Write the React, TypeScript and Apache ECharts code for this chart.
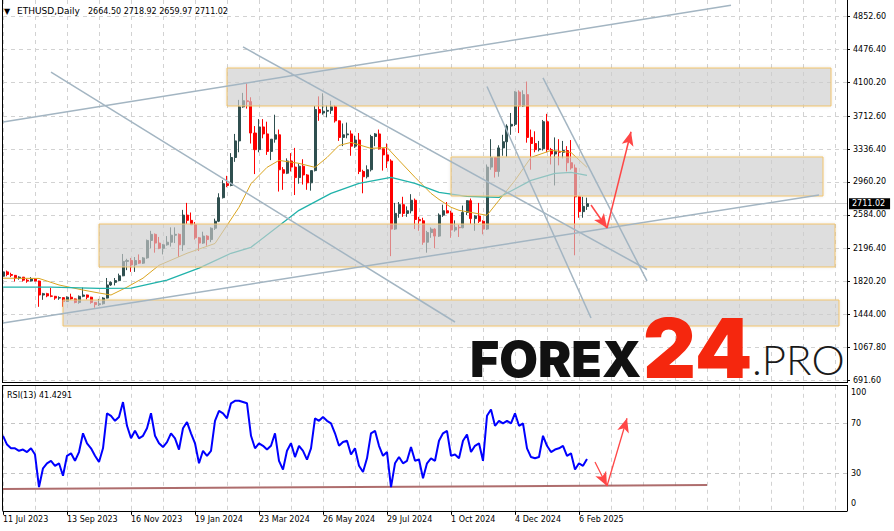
import { useEffect, useRef } from 'react';
import * as echarts from 'echarts';

// ---------- DATA ----------
const START_UTC = Date.UTC(2023, 6, 11);
const BAR_DAYS = 4;
const CATEGORY_COUNT = 212;
const MONTHS = ['Jan', 'Feb', 'Mar', 'Apr', 'May', 'Jun', 'Jul', 'Aug', 'Sep', 'Oct', 'Nov', 'Dec'];
const categories: string[] = Array.from({ length: CATEGORY_COUNT }, (_, i) => {
  const d = new Date(START_UTC + i * BAR_DAYS * 86400000);
  return `${d.getUTCDate()} ${MONTHS[d.getUTCMonth()]} ${d.getUTCFullYear()}`;
});
const LAST_DATA_INDEX = 146;

// [open, high, low, close] per 4-day bar
const candles: number[][] = [
  [1880, 1990, 1860, 1930], [1930, 1945, 1880, 1900], [1900, 1920, 1870, 1890], [1890, 1895, 1820, 1860],
  [1860, 1880, 1840, 1870], [1870, 1872, 1820, 1835], [1835, 1850, 1805, 1825], [1825, 1870, 1820, 1848],
  [1848, 1860, 1820, 1825], [1825, 1830, 1530, 1665], [1665, 1690, 1610, 1680], [1680, 1690, 1640, 1655],
  [1655, 1745, 1640, 1650], [1650, 1655, 1610, 1630], [1630, 1650, 1610, 1635], [1635, 1640, 1530, 1590],
  [1590, 1650, 1585, 1640], [1640, 1680, 1610, 1620], [1620, 1625, 1570, 1580], [1580, 1660, 1565, 1650],
  [1650, 1750, 1640, 1665], [1665, 1670, 1615, 1640], [1640, 1645, 1565, 1580], [1580, 1585, 1520, 1555],
  [1555, 1620, 1540, 1565], [1565, 1640, 1555, 1630], [1630, 1860, 1625, 1780], [1780, 1820, 1770, 1810],
  [1810, 1860, 1775, 1830], [1830, 1910, 1825, 1885], [1885, 2135, 1880, 2050], [2050, 2080, 1950, 2060],
  [2060, 2090, 1930, 2010], [2010, 2100, 1930, 2060], [2060, 2130, 2020, 2030], [2030, 2100, 2020, 2090],
  [2090, 2300, 2080, 2290], [2290, 2400, 2200, 2360], [2360, 2370, 2150, 2260], [2260, 2330, 2190, 2200],
  [2200, 2250, 2130, 2240], [2240, 2340, 2230, 2270], [2270, 2440, 2220, 2350], [2350, 2440, 2260, 2360],
  [2360, 2370, 2100, 2240], [2240, 2640, 2170, 2580], [2580, 2720, 2480, 2520], [2520, 2610, 2470, 2470],
  [2470, 2500, 2300, 2320], [2320, 2330, 2170, 2260], [2260, 2390, 2250, 2340], [2340, 2350, 2230, 2300],
  [2300, 2440, 2270, 2430], [2430, 2540, 2410, 2510], [2510, 2830, 2500, 2780], [2780, 2980, 2770, 2940],
  [2940, 3030, 2900, 2920], [2920, 3290, 2910, 3240], [3240, 3510, 3190, 3430], [3430, 3900, 3300, 3820],
  [3820, 3980, 3810, 3890], [3890, 4090, 3800, 3880], [3880, 3930, 3400, 3520], [3520, 3600, 3050, 3330],
  [3330, 3680, 3300, 3590], [3590, 3680, 3460, 3510], [3510, 3650, 3270, 3310], [3310, 3450, 3210, 3450],
  [3450, 3730, 3410, 3500], [3500, 3560, 2850, 3100], [3100, 3130, 2870, 3060], [3060, 3230, 3050, 3200],
  [3200, 3290, 3080, 3130], [3130, 3350, 2810, 3010], [3010, 3170, 2940, 3140], [3140, 3220, 2930, 3040],
  [3040, 3050, 2870, 2950], [2950, 3090, 2860, 3090], [3090, 3830, 3080, 3790], [3790, 3940, 3660, 3750],
  [3750, 3975, 3730, 3770], [3770, 3840, 3700, 3780], [3780, 3890, 3740, 3820], [3820, 3840, 3640, 3660],
  [3660, 3665, 3430, 3470], [3470, 3630, 3370, 3500], [3500, 3640, 3460, 3510], [3510, 3550, 3260, 3370],
  [3370, 3490, 3350, 3440], [3440, 3520, 3050, 3080], [3080, 3100, 2830, 3020], [3020, 3150, 3000, 3100],
  [3100, 3500, 3080, 3480], [3480, 3520, 3370, 3510], [3510, 3560, 3330, 3340], [3340, 3345, 3090, 3270],
  [3270, 3400, 3120, 3200], [3200, 3220, 2110, 2420], [2420, 2720, 2410, 2600], [2600, 2730, 2550, 2700],
  [2700, 2790, 2560, 2600], [2600, 2680, 2560, 2630], [2630, 2820, 2600, 2750], [2750, 2770, 2420, 2530],
  [2530, 2560, 2400, 2515], [2515, 2550, 2240, 2270], [2270, 2400, 2150, 2380], [2380, 2440, 2320, 2420],
  [2420, 2430, 2200, 2340], [2340, 2600, 2330, 2580], [2580, 2700, 2560, 2630], [2630, 2730, 2600, 2605],
  [2605, 2630, 2320, 2410], [2410, 2520, 2390, 2440], [2440, 2470, 2330, 2435], [2435, 2690, 2430, 2610],
  [2610, 2750, 2580, 2745], [2745, 2770, 2480, 2540], [2540, 2580, 2400, 2570], [2570, 2720, 2490, 2510],
  [2510, 2520, 2360, 2420], [2420, 3160, 2410, 3130], [3130, 3450, 3100, 3240], [3240, 3245, 3010, 3080],
  [3080, 3380, 3020, 3350], [3350, 3500, 3260, 3420], [3420, 3620, 3250, 3600], [3600, 3750, 3500, 3620],
  [3620, 4000, 3600, 3990], [3990, 4010, 3520, 3830], [3830, 4010, 3820, 3960], [3960, 4110, 3410, 3470],
  [3470, 3560, 3100, 3400], [3400, 3540, 3300, 3330], [3330, 3430, 3310, 3340], [3340, 3670, 3320, 3650],
  [3650, 3740, 3300, 3330], [3330, 3350, 3160, 3280], [3280, 3470, 2920, 3310], [3310, 3450, 3150, 3300],
  [3300, 3430, 3230, 3320], [3320, 3370, 3080, 3180], [3180, 3440, 3100, 3120], [3120, 3160, 2120, 2790],
  [2790, 2800, 2550, 2620], [2620, 2790, 2550, 2680], [2680, 2780, 2640, 2711.02],
];

// moving averages as [barIndex, value]
const maFast: number[][] = [
  [0, 1858], [9, 1855], [14, 1780], [20, 1722], [24, 1688], [27, 1665], [31, 1755], [35, 1858], [39, 2005],
  [46, 2143], [53, 2255], [59, 2670], [62, 2940], [66, 3127], [69, 3207], [74, 3173], [78, 3127], [81, 3240],
  [84, 3378], [87, 3413], [92, 3344], [96, 3355], [99, 3207], [103, 3013], [107, 2829], [109, 2760],
  [112, 2670], [114, 2635], [121, 2578], [124, 2750], [128, 2978], [132, 3241], [137, 3321], [142, 3298],
  [146, 3127],
];
const maSlow: number[][] = [
  [0, 1755], [12, 1755], [24, 1740], [32, 1745], [41, 1835], [49, 1972], [57, 2143], [62, 2212], [74, 2635],
  [82, 2829], [89, 2944], [97, 3013], [103, 2944], [109, 2841], [116, 2795], [124, 2783], [132, 2978],
  [138, 3058], [142, 3070], [146, 3035],
];

const rsi: number[] = [
  60, 53, 50, 50, 48, 49, 47, 50, 45, 19, 34, 38, 40, 36, 38, 28, 44, 46, 40, 47,
  62, 54, 50, 44, 39, 50, 78, 76, 72, 75, 87, 68, 58, 64, 58, 60, 66, 78, 60, 54,
  51, 55, 62, 58, 49, 66, 71, 62, 54, 38, 48, 44, 48, 72, 80, 78, 74, 86, 88, 88,
  87, 86, 60, 50, 54, 52, 49, 52, 62, 40, 33, 48, 54, 43, 52, 48, 41, 50, 74, 72,
  75, 72, 70, 62, 52, 55, 56, 45, 50, 36, 31, 42, 62, 64, 52, 44, 47, 19, 38, 43,
  38, 40, 51, 40, 41, 26, 38, 42, 40, 56, 62, 64, 44, 45, 42, 56, 61, 47, 52, 54,
  40, 76, 81, 68, 72, 70, 72, 70, 78, 68, 70, 50, 43, 42, 43, 60, 52, 47, 49, 50,
  52, 44, 46, 33, 38, 36, 41.43,
];

const priceTicks = [691.6, 1067.8, 1444.0, 1820.2, 2196.4, 2584.0, 2960.2, 3336.4, 3712.6, 4100.2, 4476.4, 4852.6];
const rsiTicks = [0, 30, 70, 100];
const rsiLevels = [30, 70];
const lastClose = 2711.02;
const symbolText = 'ETHUSD,Daily';
const quoteText = '2664.50 2718.92 2659.97 2711.02';
const rsiText = 'RSI(13) 41.4291';

// zones: [fromBar, toBar, top price, bottom price]
const zones: number[][] = [
  [56, 207, 4265, 3830],
  [112, 205, 3246, 2799],
  [24, 208, 2478, 1986],
  [15, 209, 1608, 1310],
];
// trend lines: [bar1, price1, bar2, price2]
const trendLines: number[][] = [
  [0, 3647, 182, 4984],
  [0, 1345, 204, 2811],
  [12, 4219, 113, 1356],
  [60, 4506, 161, 1957],
  [121, 4053, 147, 1402],
  [135, 4151, 161, 1826],
];
const priceArrows: number[][] = [
  [147, 2696, 151, 2433],
  [151, 2433, 157, 3535],
];
const rsiTrend: number[] = [0, 17.4, 176, 20.6];
const rsiArrows: number[][] = [
  [148, 39, 151, 19.8],
  [151, 19.8, 156, 74],
];

// ---------- STYLE ----------
const FONT = 'DejaVu Sans';
const GRID_COLOR = '#d2d2d2';
const BULL = '#2f4f4f';
const BEAR = '#ff0000';
const TREND = '#a3b5c2';
const ARROW = '#ff4646';

const tickLabelAt = (i: number) => i % 16 === 0 && i <= LAST_DATA_INDEX;
const splitAt = (i: number) => i % 8 === 0;

export default function App() {
  const ref = useRef<HTMLDivElement>(null);
  useEffect(() => {
    if (!ref.current) return;
    const chart = echarts.init(ref.current, undefined, { renderer: 'svg' });

    const arrowItem = (a: number[]) => [
      { coord: [a[0], a[1]], symbol: 'none' },
      { coord: [a[2], a[3]], symbol: 'arrow', symbolSize: [9, 14] },
    ];

    const option: any = {
      animation: false,
      backgroundColor: '#ffffff',
      textStyle: { fontFamily: FONT, fontSize: 8 },
      grid: [
        { left: 3, right: 47, top: 0, height: 382 },
        { left: 3, right: 47, top: 385.8, height: 125 },
      ],
      xAxis: [
        {
          type: 'category', gridIndex: 0, data: categories, boundaryGap: false,
          axisLine: { show: false }, axisTick: { show: false }, axisLabel: { show: false },
          splitLine: { show: true, interval: splitAt, lineStyle: { color: GRID_COLOR, type: [4, 4], width: 1 } },
        },
        {
          type: 'category', gridIndex: 1, data: categories, boundaryGap: false,
          axisLine: { show: true, lineStyle: { color: '#000', width: 1 } },
          axisTick: { show: true, interval: tickLabelAt, length: 4, lineStyle: { color: '#000' } },
          axisLabel: { show: true, interval: tickLabelAt, align: 'left', margin: 5, color: '#000', fontSize: 8, fontFamily: FONT },
          splitLine: { show: true, interval: splitAt, lineStyle: { color: GRID_COLOR, type: [4, 4], width: 1 } },
        },
      ],
      yAxis: [
        {
          type: 'value', gridIndex: 0, position: 'right', min: 668.7, max: 5043.9, scale: true,
          axisLine: { show: true, lineStyle: { color: '#000', width: 1 } },
          axisTick: { show: true, customValues: priceTicks, length: 3, lineStyle: { color: '#000' } },
          axisLabel: { show: true, customValues: priceTicks, formatter: (v: number) => v.toFixed(2), margin: 6, color: '#000', fontSize: 8, fontFamily: FONT },
          splitLine: { show: false },
        },
        {
          type: 'value', gridIndex: 1, position: 'right', min: 0, max: 100,
          axisLine: { show: true, lineStyle: { color: '#000', width: 1 } },
          axisTick: { show: false },
          axisLabel: {
            show: true, customValues: rsiTicks, margin: 4, color: '#000', fontSize: 8, fontFamily: FONT,
            formatter: (v: number) => (v === 100 ? '{t|100}' : v === 0 ? '{b|0}' : `${v}`),
            rich: {
              t: { padding: [14, 0, 0, 0], fontSize: 8, fontFamily: FONT, color: '#000' },
              b: { padding: [0, 0, 15, 0], fontSize: 8, fontFamily: FONT, color: '#000' },
            },
          },
          splitLine: { show: false },
        },
      ],
      series: [
        {
          type: 'line', name: 'priceGrid', xAxisIndex: 0, yAxisIndex: 0, data: [], silent: true, z: 0,
          markLine: {
            silent: true, symbol: ['none', 'none'], z: 0, label: { show: false },
            lineStyle: { color: GRID_COLOR, type: [4, 4], width: 1 },
            data: priceTicks.map((v) => ({ yAxis: v })),
          },
        },
        {
          type: 'candlestick', name: 'ETHUSD', xAxisIndex: 0, yAxisIndex: 0, z: 2,
          data: candles.map(([o, h, l, c]) => [o, c, l, h]),
          barWidth: 2.5,
          itemStyle: { color: BULL, color0: BEAR, borderColor: BULL, borderColor0: BEAR, borderWidth: 1 },
          markLine: {
            silent: true, symbol: ['none', 'none'], z: 1,
            data: [{
              yAxis: lastClose,
              lineStyle: { color: '#cfcfcf', width: 1, type: 'solid' },
              label: {
                show: true, position: 'end', formatter: lastClose.toFixed(2), distance: 2,
                color: '#fff', backgroundColor: '#000', padding: [2, 5, 1, 3], fontSize: 8, fontFamily: FONT,
              },
            }],
          },
        },
        {
          type: 'line', name: 'MA fast', xAxisIndex: 0, yAxisIndex: 0, data: maFast, showSymbol: false, z: 3,
          lineStyle: { color: '#daa520', width: 1 }, silent: true,
        },
        {
          type: 'line', name: 'MA slow', xAxisIndex: 0, yAxisIndex: 0, data: maSlow, showSymbol: false, z: 3,
          lineStyle: { color: '#20b2aa', width: 1.3 }, silent: true,
        },
        {
          type: 'line', name: 'annotations', xAxisIndex: 0, yAxisIndex: 0, data: [], silent: true, z: 10,
          markArea: {
            silent: true, z: 10,
            itemStyle: {
              color: 'rgba(208,208,208,0.62)', borderColor: '#f2c46c', borderWidth: 1,
              shadowBlur: 3, shadowColor: 'rgba(0,0,0,0.12)',
            },
            label: { show: false },
            data: zones.map((z) => [{ coord: [z[0], z[2]] }, { coord: [z[1], z[3]] }]),
          },
          markLine: {
            silent: true, z: 11, symbol: ['none', 'none'], label: { show: false },
            lineStyle: { color: TREND, width: 1.5, type: 'solid' },
            data: [
              ...trendLines.map((t) => [{ coord: [t[0], t[1]] }, { coord: [t[2], t[3]] }]),
              ...priceArrows.map((a) => {
                const it: any = arrowItem(a);
                it[0].lineStyle = { color: ARROW, width: 1.5, type: 'solid' };
                it[1].itemStyle = { color: ARROW };
                return it;
              }),
            ],
          },
        },
        {
          type: 'line', name: 'RSI(13)', xAxisIndex: 1, yAxisIndex: 1, data: rsi, showSymbol: false, z: 3,
          lineStyle: { color: '#0000ff', width: 2 }, silent: true,
          markLine: {
            silent: true, symbol: ['none', 'none'], z: 1, label: { show: false },
            lineStyle: { color: '#c4c4c4', type: [4, 4], width: 1 },
            data: rsiLevels.map((v) => ({ yAxis: v })),
          },
        },
        {
          type: 'line', name: 'rsiAnnotations', xAxisIndex: 1, yAxisIndex: 1, data: [], silent: true, z: 5,
          markLine: {
            silent: true, z: 2, symbol: ['none', 'none'], label: { show: false },
            data: [
              [
                { coord: [rsiTrend[0], rsiTrend[1]], lineStyle: { color: '#a05454', width: 2, opacity: 0.85, type: 'solid' } },
                { coord: [rsiTrend[2], rsiTrend[3]] },
              ],
              ...rsiArrows.map((a) => {
                const it: any = arrowItem(a);
                it[0].lineStyle = { color: ARROW, width: 1.3, type: 'solid' };
                it[1].itemStyle = { color: ARROW };
                return it;
              }),
            ],
          },
        },
      ],
      graphic: [
        { type: 'line', silent: true, z: 50, shape: { x1: 2.5, y1: 0, x2: 2.5, y2: 382 }, style: { stroke: '#000', lineWidth: 1 } },
        { type: 'line', silent: true, z: 50, shape: { x1: 2.5, y1: 385.8, x2: 2.5, y2: 510.8 }, style: { stroke: '#000', lineWidth: 1 } },
        { type: 'line', silent: true, z: 50, shape: { x1: 2, y1: 382.5, x2: 848, y2: 382.5 }, style: { stroke: '#000', lineWidth: 1 } },
        { type: 'line', silent: true, z: 50, shape: { x1: 2, y1: 385.5, x2: 848, y2: 385.5 }, style: { stroke: '#000', lineWidth: 1 } },
        { type: 'text', silent: true, z: 60, x: 4, y: 11, style: { text: '▼', fontSize: 8, fontFamily: FONT, fill: '#000', verticalAlign: 'middle' } },
        { type: 'text', silent: true, z: 60, x: 17, y: 11, style: { text: symbolText, fontSize: 9, fontFamily: FONT, fill: '#000', verticalAlign: 'middle' } },
        { type: 'text', silent: true, z: 60, x: 88, y: 11, style: { text: quoteText, fontSize: 8, fontFamily: FONT, fill: '#000', verticalAlign: 'middle' } },
        { type: 'text', silent: true, z: 60, x: 7, y: 395, style: { text: rsiText, fontSize: 8, fontFamily: FONT, fill: '#000', verticalAlign: 'middle' } },
        { type: 'text', silent: true, z: 60, x: 470, y: 358.5, style: { text: 'FOREX', fontSize: 50, fontWeight: 900, fontFamily: 'Inter', fill: '#111111', verticalAlign: 'middle' } },
        { type: 'text', silent: true, z: 60, x: 643, y: 348, style: { text: '24', fontSize: 82, fontWeight: 900, fontFamily: 'Inter', fill: '#f5270e', verticalAlign: 'middle' } },
        { type: 'text', silent: true, z: 60, x: 752, y: 359, style: { text: '.PRO', fontSize: 42, fontWeight: 300, fontFamily: 'Lato', fill: '#1a1a1a', verticalAlign: 'middle' } },
      ],
    };

    chart.setOption(option);
    return () => chart.dispose();
  }, []);

  return <div ref={ref} style={{ position: 'fixed', left: 0, top: 0, width: 894, height: 531 }} />;
}
